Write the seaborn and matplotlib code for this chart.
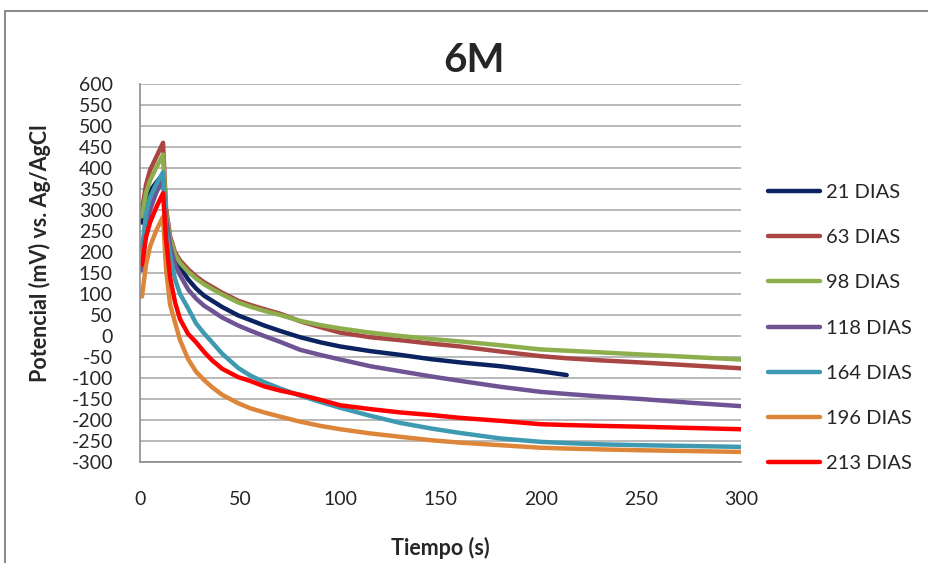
import matplotlib
matplotlib.use("Agg")
import matplotlib.pyplot as plt
import pandas as pd
import seaborn as sns
from matplotlib.lines import Line2D

# ---- data ----
tiempo = [1, 3, 5, 8, 11.5, 13, 15, 17.5, 20, 24, 28, 32, 36, 41, 49, 55, 62, 70,
          80, 90, 100, 115, 130, 145, 160, 180, 200, 213, 230, 250, 275, 300]
tiempo_21 = tiempo[:28]

d21 = [270, 320, 345, 365, 385, 290, 230, 190, 165, 135, 113, 96, 84, 69, 49, 38, 25, 12,
       -3, -15, -25, -36, -45, -55, -63, -72, -84, -93]
d63 = [300, 360, 395, 425, 460, 305, 238, 199, 180, 159, 142, 128, 117, 103, 84, 74, 64, 53,
       35, 21, 8, -3, -10, -18, -25, -37, -48, -53, -58, -63, -70, -77]
d98 = [285, 340, 370, 400, 432, 295, 232, 194, 174, 153, 137, 123, 112, 99, 80, 70, 60, 50,
       36, 26, 18, 8, 0, -7, -13, -22, -32, -35, -39, -44, -50, -56]
d118 = [157, 250, 300, 340, 375, 280, 215, 170, 145, 111, 89, 72, 60, 44, 25, 13, 0, -14,
        -33, -45, -56, -72, -84, -96, -107, -121, -133, -138, -144, -150, -159, -167]
d164 = [205, 290, 330, 360, 390, 250, 195, 135, 100, 66, 30, 6, -15, -42, -76, -94, -110, -125,
        -142, -157, -171, -190, -207, -220, -231, -244, -252, -255, -258, -260, -262, -264]
d196 = [94, 170, 213, 250, 284, 160, 75, 32, -10, -55, -85, -105, -122, -140, -160, -172, -182, -192,
        -204, -214, -222, -232, -240, -248, -254, -260, -266, -268, -270, -272, -274, -276]
d213 = [170, 235, 270, 305, 340, 230, 140, 80, 40, 5, -15, -38, -58, -78, -98, -107, -120, -130,
        -140, -152, -165, -174, -182, -188, -195, -202, -210, -212, -214, -216, -219, -222]

series_names = ["21 DIAS", "63 DIAS", "98 DIAS", "118 DIAS", "164 DIAS", "196 DIAS", "213 DIAS"]
series_vals = [d21, d63, d98, d118, d164, d196, d213]
series_times = [tiempo_21, tiempo, tiempo, tiempo, tiempo, tiempo, tiempo]
colors = ["#0B2361", "#A94643", "#8CAE4C", "#6E5494", "#3E9AB0", "#DD8538", "#FF0000"]

y_ticks = list(range(-300, 601, 50))
x_ticks = list(range(0, 301, 50))

rows = []
for name, ts, vs in zip(series_names, series_times, series_vals):
    for t, v in zip(ts, vs):
        rows.append({"Tiempo": t, "Potencial": v, "Serie": name})
df = pd.DataFrame(rows)

sns.set_style("white")
plt.rcParams["font.family"] = ["Lato", "DejaVu Sans"]

fig = plt.figure(figsize=(9.29, 5.63), dpi=100)
ax = fig.add_axes([140 / 929, 1 - 462 / 563, 601 / 929, 378 / 563])

sns.lineplot(data=df, x="Tiempo", y="Potencial", hue="Serie", hue_order=series_names,
             palette=colors, estimator=None, sort=False, linewidth=3.2, ax=ax, legend=False)

ax.set_xlim(0, 300)
ax.set_ylim(-300, 600)
ax.set_yticks(y_ticks)
ax.set_xticks(x_ticks)
ax.set_yticklabels([str(v) for v in y_ticks], fontsize=14)
ax.set_xticklabels([str(v) for v in x_ticks], fontsize=14)
ax.tick_params(axis="y", length=0, pad=19.5)
ax.tick_params(axis="x", length=0, pad=21)
ax.yaxis.grid(True, color="#A6A6A6", linewidth=1.1)
ax.xaxis.grid(False)
ax.set_axisbelow(True)
for s in ["top", "right"]:
    ax.spines[s].set_visible(False)
for s in ["left", "bottom"]:
    ax.spines[s].set_color("#8C8C8C")
    ax.spines[s].set_linewidth(1.2)
ax.set_xlabel("")
ax.set_ylabel("")

fig.text(474 / 929, 1 - 60 / 563, "6M", ha="center", va="center", fontsize=29, fontweight="bold")
fig.text(440 / 929, 1 - 548 / 563, "Tiempo (s)", ha="center", va="center", fontsize=15.5, fontweight="bold")
fig.text(40 / 929, 1 - 253 / 563, "Potencial (mV) vs. Ag/AgCl", ha="center", va="center",
         rotation=90, fontsize=15.5, fontweight="bold")

handles = [Line2D([0], [0], color=c, lw=3.2) for c in colors]
ax.legend(handles, series_names, loc="center left", bbox_to_anchor=(768 / 929, 1 - 328 / 563),
          bbox_transform=fig.transFigure, frameon=False, fontsize=14.5, handlelength=2.6,
          handletextpad=0.3, labelspacing=1.4, borderpad=0, borderaxespad=0)

# outer chart frame
fig.add_artist(Line2D([5 / 929, 1.0], [1 - 11 / 563, 1 - 11 / 563], transform=fig.transFigure,
                      color="#8C8C8C", lw=1.5))
fig.add_artist(Line2D([5 / 929, 5 / 929], [0, 1 - 11 / 563], transform=fig.transFigure,
                      color="#8C8C8C", lw=1.5))

fig.savefig("out.png", dpi=100, facecolor="white")
